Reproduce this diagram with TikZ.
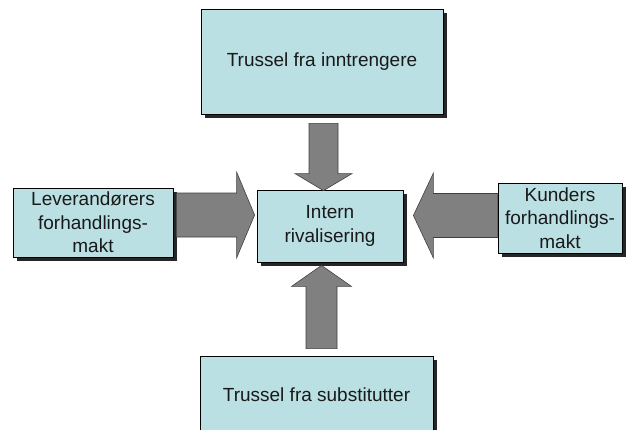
\documentclass[tikz,border=0pt]{standalone}
\usepackage{fontspec}
\setmainfont{Liberation Sans}
\usetikzlibrary{calc}
\definecolor{boxcyan}{HTML}{BBE0E3}
\definecolor{arrowgray}{HTML}{808080}

\begin{document}
\begin{tikzpicture}[x=1pt, y=-1pt,
    force/.style={draw=black, fill=boxcyan, line width=0.8pt, align=center, inner sep=0pt,
        preaction={draw=none, fill=black!85, transform canvas={xshift=3.5pt, yshift=-3.5pt}},
        font=\fontsize{19}{23.5}\selectfont, text=black!90},
    fatarrow/.style={fill=arrowgray, draw=black!75, line width=0.6pt, line join=miter}]
\useasboundingbox (0,0) rectangle (627,429);
\clip (0,0) rectangle (627,429);

% Forces
\node[force, minimum width=242pt, minimum height=105pt] (inntr) at (322,61.5) {Trussel fra inntrengere};
\node[force, minimum width=160pt, minimum height=69pt] (lev) at (93,222.5) {Leverandørers\\forhandlings-\\makt};
\node[force, minimum width=146pt, minimum height=72pt] (int) at (330,226) {Intern\\rivalisering};
\node[force, minimum width=124pt, minimum height=70pt] (kund) at (560,218) {Kunders\\forhandlings-\\makt};
\node[force, minimum width=233pt, minimum height=78pt] (subst) at (316.5,395) {Trussel fra substitutter};

% Arrow ends
\coordinate (t-s) at ($(inntr.south)+(1.5,9)$);
\coordinate (t-t) at ($(t-s |- int.north)+(0,1)$);
\coordinate (b-s) at ($(subst.north)+(5,-7)$);
\coordinate (b-t) at ($(b-s |- int.south)+(0,3)$);
\coordinate (l-s) at ($(lev.east)+(3,-7.5)$);
\coordinate (l-t) at ($(l-s -| int.west)+(-2,0)$);
\coordinate (r-s) at ($(kund.west)+(0,-2.5)$);
\coordinate (r-t) at ($(r-s -| int.east)+(10,0)$);

% Block arrows
\draw[fatarrow] ($(t-s)+(-14.5,0)$) -- ($(t-t)+(-14.5,-17)$) -- ($(t-t)+(-28.5,-17)$) -- (t-t)
    -- ($(t-t)+(28.5,-17)$) -- ($(t-t)+(14.5,-17)$) -- ($(t-s)+(14.5,0)$) -- cycle;
\draw[fatarrow] ($(b-s)+(-15.5,0)$) -- ($(b-t)+(-15.5,21)$) -- ($(b-t)+(-30,21)$) -- (b-t)
    -- ($(b-t)+(30,21)$) -- ($(b-t)+(15.5,21)$) -- ($(b-s)+(15.5,0)$) -- cycle;
\draw[fatarrow] ($(l-s)+(0,-22)$) -- ($(l-t)+(-18,-22)$) -- ($(l-t)+(-18,-43)$) -- (l-t)
    -- ($(l-t)+(-18,43)$) -- ($(l-t)+(-18,22)$) -- ($(l-s)+(0,22)$) -- cycle;
\draw[fatarrow] ($(r-s)+(0,-22)$) -- ($(r-t)+(20,-22)$) -- ($(r-t)+(20,-42.5)$) -- (r-t)
    -- ($(r-t)+(20,42.5)$) -- ($(r-t)+(20,22)$) -- ($(r-s)+(0,22)$) -- cycle;
\end{tikzpicture}
\end{document}
